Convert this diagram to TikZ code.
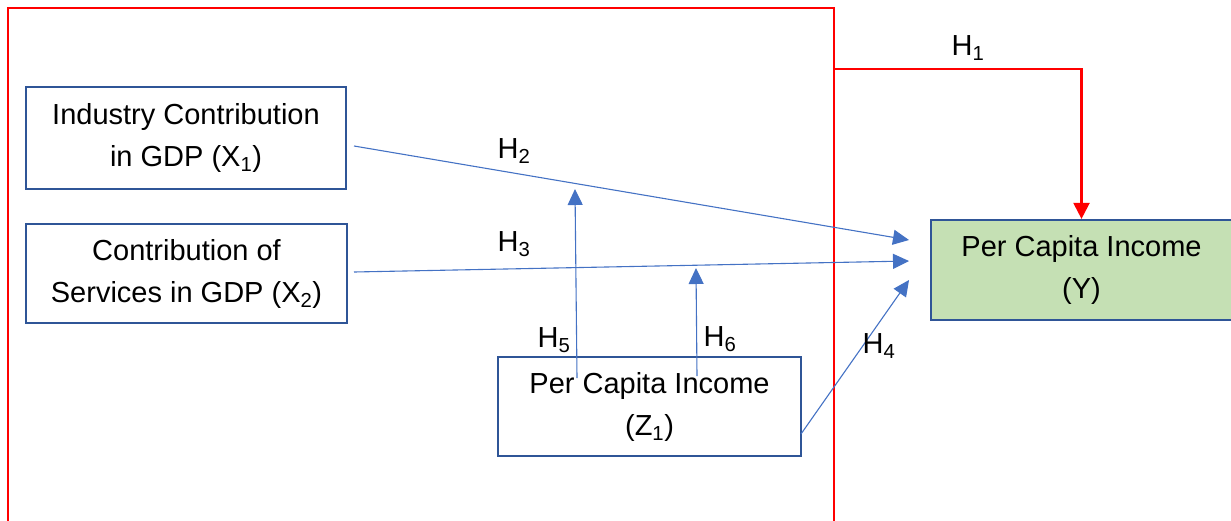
\documentclass[tikz,border=0pt]{standalone}
\usepackage{fontspec}
\setmainfont{Liberation Sans}
\usepackage{xcolor}
\usetikzlibrary{positioning,arrows.meta,calc}

\definecolor{boxblue}{HTML}{2F5597}
\definecolor{linkblue}{HTML}{4472C4}
\definecolor{outgreen}{HTML}{C5E0B4}
\definecolor{framered}{HTML}{FF0000}

\begin{document}
\begin{tikzpicture}[
    x=1pt, y=-1pt,
    font=\fontsize{29}{42}\selectfont,
    varbox/.style={draw=boxblue, line width=2.2pt, fill=white, align=center, inner sep=0pt},
    outbox/.style={varbox, fill=outgreen},
    link/.style={draw=linkblue, line width=1.1pt, -{Triangle[length=16pt,width=15pt]}},
    hyplabel/.style={inner sep=0pt, anchor=center}
]
\useasboundingbox (0,0) rectangle (1231,520);

% frame round the predictors
\draw[framered, line width=2.2pt] (8,522) -- (8,8) -- (834,8) -- (834,522);

\node[varbox, minimum width=320pt, minimum height=102pt] (X1) at (186,138) {Industry Contribution\\in GDP (X\textsubscript{1})};
\node[varbox, minimum width=321pt, minimum height=99pt] (X2) at (186.5,273.5) {Contribution of\\Services in GDP (X\textsubscript{2})};
\node[varbox, minimum width=303pt, minimum height=99pt] (Z1) at (649.5,406.5) {Per Capita Income\\(Z\textsubscript{1})};
\node[outbox, minimum width=301pt, minimum height=100pt] (Y) at (1081.5,270) {Per Capita Income\\(Y)};

% end points of the links
\coordinate (x1out) at (354,146);
\coordinate (x2out) at (354,272);
\coordinate (z1out) at (801,434);
\coordinate (y2in) at (909,240);
\coordinate (y3in) at (909,261);
\coordinate (y4in) at (909,280);
\coordinate (z1h5) at (577,378);
\coordinate (z1h6) at (697,376);
\coordinate (h5end) at (575,189);
\coordinate (h6end) at (696,268);
\coordinate (frameh1) at (834,69);

\draw[framered, line width=2.2pt, -{Triangle[length=16pt,width=16pt]}] (frameh1) -| (Y.north);

\draw[link] (x1out) -- (y2in);
\draw[link] (x2out) -- (y3in);
\draw[link] (z1out) -- (y4in);
\draw[link] (z1h5) -- (h5end);
\draw[link] (z1h6) -- (h6end);

\node[hyplabel] (h1) at (968,48) {H\textsubscript{1}};
\node[hyplabel] (h2) at (514,151) {H\textsubscript{2}};
\node[hyplabel] (h3) at (514,244) {H\textsubscript{3}};
\node[hyplabel] (h4) at (879,346) {H\textsubscript{4}};
\node[hyplabel] (h5) at (554,340) {H\textsubscript{5}};
\node[hyplabel] (h6) at (720,339) {H\textsubscript{6}};

\end{tikzpicture}
\end{document}
